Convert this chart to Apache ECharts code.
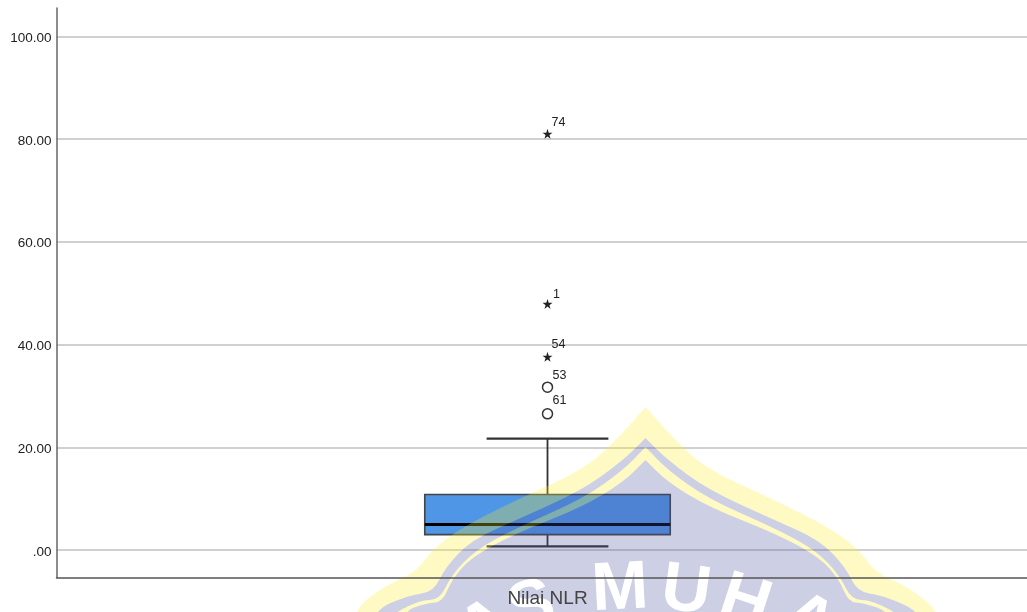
<!DOCTYPE html>
<html><head><meta charset="utf-8">
<style>html,body{margin:0;padding:0;background:#fff}#c{width:1027px;height:612px}</style>
<script src="https://cdn.jsdelivr.net/npm/echarts@6/dist/echarts.min.js"></script>
</head><body><div id="c"></div>
<script>
const categories = ['Nilai NLR'];
const whiskerLow = [0.7];
const q1 = [3.0];
const median = [4.95];
const q3 = [10.8];
const whiskerHigh = [21.7];
const extremeValues = [81.0, 47.9, 37.6];
const extremeIds = ['74', '1', '54'];
const outlierValues = [31.7, 26.5];
const outlierIds = ['53', '61'];
const yTickValues = [0, 20, 40, 60, 80, 100];
const yRange = {min: -5.35, max: 105.5};

// Decorative watermark over the page photo (half-profiles, mirrored about its axis)
const wmAxis = 645.5;
const wmLayers = [
  ['rgb(255,240,36)', [[0,407],[32,443],[63,470],[129,500],[183,527],[214,550],[229,572],[263,587],[294,612],[294,640]]],
  ['rgb(72,80,157)',  [[0,438],[22,460],[63,490],[129,520],[174,540],[200,567],[212,592],[236,595],[276,612],[276,640]]],
  ['rgb(255,240,36)', [[0,447],[22,470],[63,499],[129,528],[170,550],[194,575],[206,600],[226,600],[260,618],[260,640]]],
  ['rgb(72,80,157)',  [[0,460],[22,482],[63,507],[129,533],[174,557],[194,580],[203,602],[218,603],[245,612],[245,640]]]
];
const wmLetters = [
  ['A', 487, 628, 32], ['S', 532, 608, 16], ['M', 620, 590, 3],
  ['U', 686, 592, -8], ['H', 745, 603, -18], ['A', 808, 622, -30]
];

function watermark() {
  const cv = document.createElement('canvas');
  cv.width = 1027; cv.height = 612;
  const g = cv.getContext('2d');
  wmLayers.forEach(([col, prof]) => {
    const pts = prof.map(p => [wmAxis + p[0], p[1]]);
    const left = prof.slice().reverse().map(p => [wmAxis - p[0], p[1]]);
    g.fillStyle = col;
    g.beginPath();
    g.moveTo(left[0][0], left[0][1]);
    const all = left.concat(pts.slice(1));
    for (let i = 1; i < all.length - 1; i++) {
      const mx = (all[i][0] + all[i + 1][0]) / 2, my = (all[i][1] + all[i + 1][1]) / 2;
      if (i === left.length - 1) { g.lineTo(all[i][0], all[i][1]); g.lineTo(mx, my); }
      else g.quadraticCurveTo(all[i][0], all[i][1], mx, my);
    }
    g.lineTo(all[all.length - 1][0], all[all.length - 1][1]);
    g.closePath();
    g.fill();
  });
  return cv;
}

const STAR = 'path://M50 0 L62 36 L100 36 L69 59 L81 95 L50 73 L19 95 L31 59 L0 36 L38 36 Z';
const offsets = {'74':[11,-11], '1':[9,-9], '54':[11,-12], '53':[12,-12], '61':[12,-13]};
function pts(vals, ids) {
  return vals.map((v, i) => ({
    value: [categories[0], v],
    name: ids[i],
    label: {show: true, position: 'inside', formatter: ids[i], offset: offsets[ids[i]],
      fontFamily: 'Liberation Sans', fontSize: 12.5, color: '#222'}
  }));
}

const chart = echarts.init(document.getElementById('c'), null, {renderer: 'canvas'});
chart.setOption({
  animation: false,
  backgroundColor: '#fff',
  grid: {left: 56.5, top: 8, width: 982, height: 569.5, outerBoundsMode: 'none', containLabel: false},
  xAxis: {
    type: 'category', data: categories, z: 20,
    axisTick: {show: false},
    axisLine: {onZero: false, lineStyle: {color: '#555', width: 1.5}},
    axisLabel: {fontFamily: 'Liberation Sans', fontSize: 19, color: '#444', margin: 12},
    splitLine: {show: false}
  },
  yAxis: {
    type: 'value', min: yRange.min, max: yRange.max, z: 5,
    axisLine: {show: true, onZero: false, lineStyle: {color: '#666', width: 1.5}},
    axisTick: {show: false, customValues: yTickValues},
    axisLabel: {
      margin: 5,
      customValues: yTickValues,
      formatter: v => '{t|' + (v === 0 ? '.00' : v.toFixed(2)) + '}',
      rich: {t: {fontFamily: 'Liberation Sans', fontSize: 13.5, color: '#222', padding: [4, 0, 0, 0]}}
    },
    splitLine: {show: true, lineStyle: {color: '#d0d0d0', width: 2}}
  },
  graphic: [
    {type: 'image', silent: true, z: 15, x: 0, y: 0,
     style: {image: watermark(), x: 0, y: 0, width: 1027, height: 612, opacity: 0.265}}
  ].concat(wmLetters.map(([t, x, y, r]) => ({
    type: 'text', silent: true, z: 16, x, y, rotation: r * Math.PI / 180,
    style: {text: t, fill: '#fff', font: 'bold 68px "Liberation Sans"', textAlign: 'center', textVerticalAlign: 'middle'}
  }))),
  series: [
    {
      type: 'custom', z: 10, clip: false,
      data: categories.map((c, i) => [i, whiskerLow[i], q1[i], median[i], q3[i], whiskerHigh[i]]),
      encode: {x: 0, y: [1, 2, 3, 4, 5]},
      renderItem(params, api) {
        const i = api.value(0);
        const y = k => api.coord([i, api.value(k)])[1];
        const cx = api.coord([i, 0])[0];
        const band = api.size([1, 0])[0];
        const hw = band * 0.125, cw = band * 0.062;
        const line = (x1, y1, x2, y2, w, c) => ({type: 'line', shape: {x1, y1, x2, y2},
          style: {stroke: c || '#333', lineWidth: w, fill: null}});
        return {type: 'group', children: [
          line(cx, y(5), cx, y(4), 1.8),
          line(cx, y(2), cx, y(1), 1.8),
          line(cx - cw, y(5), cx + cw, y(5), 2.2),
          line(cx - cw, y(1), cx + cw, y(1), 2.2),
          {type: 'rect', shape: {x: cx - hw, y: y(4), width: hw * 2, height: y(2) - y(4)},
           style: {fill: '#5096e6', stroke: '#444', lineWidth: 1.6}},
          line(cx - hw, y(3), cx + hw, y(3), 3, '#000')
        ]};
      }
    },
    {type: 'scatter', z: 12, symbol: STAR, symbolSize: 10, itemStyle: {color: '#222', opacity: 1},
     data: pts(extremeValues, extremeIds)},
    {type: 'scatter', z: 12, symbol: 'circle', symbolSize: 10,
     itemStyle: {color: 'rgba(255,255,255,0)', borderColor: '#333', borderWidth: 1.5, opacity: 1},
     data: pts(outlierValues, outlierIds)}
  ]
});
</script></body></html>
